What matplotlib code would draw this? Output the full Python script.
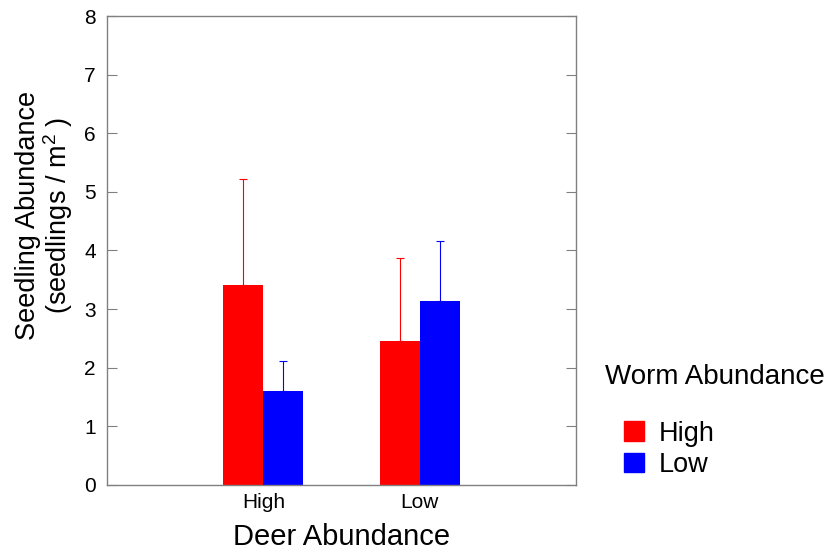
import numpy as np
import matplotlib
matplotlib.use('Agg')
import matplotlib.pyplot as plt
from matplotlib.patches import Patch

plt.rcParams['font.family'] = ['Liberation Sans', 'DejaVu Sans']
plt.rcParams['mathtext.fontset'] = 'custom'
plt.rcParams['mathtext.rm'] = 'Liberation Sans'

#data
deer = ['High', 'Low']
worm = ['High', 'Low']
worm_high = [3.41, 2.45]
worm_high_err = [1.81, 1.43]
worm_low = [1.60, 3.14]
worm_low_err = [0.51, 1.02]

colors = ['#ff0000', '#0000ff']
bar_w = 0.256
gray = '#808080'

fig = plt.figure(figsize=(8.25, 5.52), dpi=100)
ax = fig.add_axes([0.1297, 0.1214, 0.5685, 0.8496])

x = np.arange(1, len(deer) + 1)
ax.bar(x - bar_w / 2, worm_high, bar_w, color=colors[0], zorder=2)
ax.bar(x + bar_w / 2, worm_low, bar_w, color=colors[1], zorder=2)
ax.errorbar(x - bar_w / 2, worm_high, yerr=[np.zeros(2), worm_high_err], fmt='none',
            ecolor=colors[0], elinewidth=0.8, capsize=3, capthick=0.8, zorder=1)
ax.errorbar(x + bar_w / 2, worm_low, yerr=[np.zeros(2), worm_low_err], fmt='none',
            ecolor=colors[1], elinewidth=0.8, capsize=3, capthick=0.8, zorder=1)

ax.set_xlim(0, 3)
ax.set_ylim(0, 8)
ax.set_xticks(x)
ax.set_xticklabels(deer)
ax.set_yticks(range(0, 9))
ax.tick_params(axis='x', length=0, labelsize=15, pad=6)
ax.tick_params(axis='y', direction='in', right=True, length=7, color=gray, labelsize=15, pad=8)
for s in ax.spines.values():
    s.set_color(gray)
    s.set_linewidth(1)

ax.set_xlabel('Deer Abundance', fontsize=21, labelpad=8)
ax.set_ylabel('Seedling Abundance\n(seedlings / m$^2$ )', fontsize=19.5, linespacing=1.0)
ax.yaxis.set_label_coords(-0.068, 0.575)

#legend: title as separate text, entries below
fig.text(605 / 825, 1 - 377 / 552, 'Worm Abundance', fontsize=20, ha='left', va='center')
handles = [Patch(color=c, label=l) for c, l in zip(colors, worm)]
fig.legend(handles=handles, loc='upper left', bbox_to_anchor=(0.756, 0.238),
           frameon=False, fontsize=19.5, handlelength=0.74, handleheight=0.74,
           handletextpad=0.55, labelspacing=0.2, borderaxespad=0, borderpad=0)

plt.savefig('out.png', dpi=100)
